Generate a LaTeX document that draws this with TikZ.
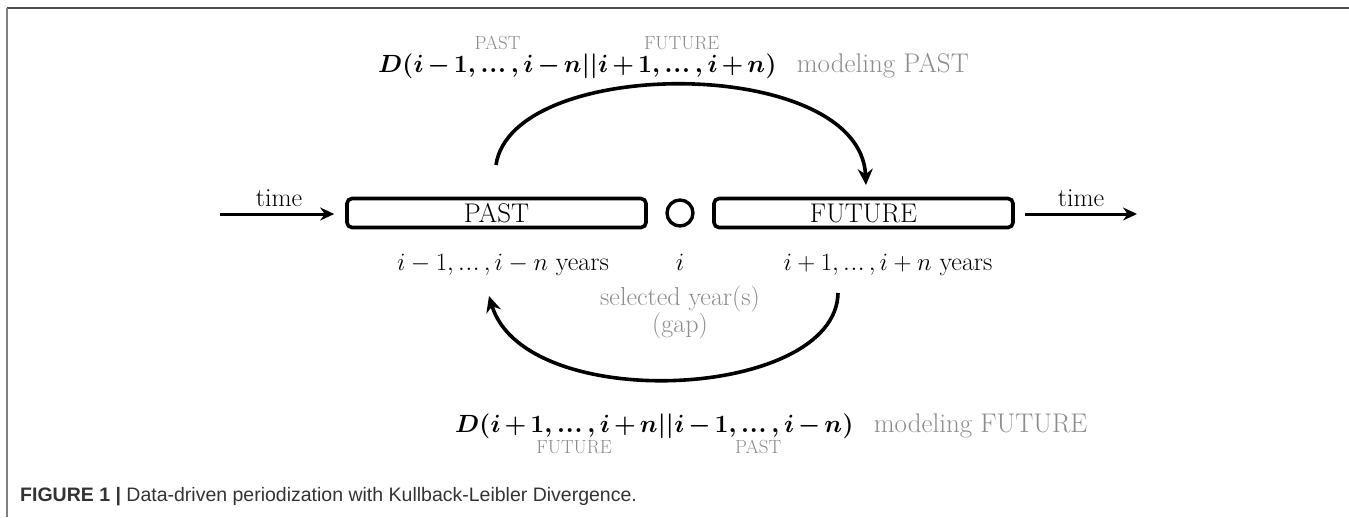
\documentclass[tikz,border=0pt]{standalone}
\usepackage{fontspec}
\usetikzlibrary{arrows.meta,positioning}
\newfontfamily\capfont{Liberation Sans}
\definecolor{lbl}{gray}{0.55}
\definecolor{capcol}{gray}{0.2}
\newcommand{\tdots}{\mathinner{\ldotp\mkern-2.5mu\ldotp\mkern-2.5mu\ldotp}}
\newcommand{\fmset}{\boldmath\medmuskip=2.5mu\relax}
\tikzset{
  boxnode/.style={draw, line width=3.6pt, rounded corners=5pt, minimum width=299pt, minimum height=29pt, inner sep=0pt, font=\fontsize{27}{30}\selectfont},
  txt/.style={inner sep=0pt, font=\fontsize{26}{30}\selectfont},
  graytxt/.style={inner sep=0pt, text=lbl, font=\fontsize{26}{27}\selectfont, align=center},
  fm/.style={inner sep=0pt, font=\fontsize{26.5}{32}\selectfont\fmset},
  smlbl/.style={inner sep=0pt, text=lbl, font=\fontsize{19}{20}\selectfont},
  modtxt/.style={inner sep=0pt, text=lbl, font=\fontsize{27}{30}\selectfont},
  tarrow/.style={line width=3pt, -{Stealth[length=14pt,width=13pt]}},
  carrow/.style={line width=3.6pt, -{Stealth[length=16pt,width=15pt]}}
}
\begin{document}
\begin{tikzpicture}[x=1pt,y=-1pt]
\useasboundingbox (0,0) rectangle (1349,517);
% frame
\draw[gray!60!black, line width=2pt] (7,8) -- (1349,8);
\draw[gray, line width=1.5pt] (7,8) -- (7,517);

% boxes
\node[boxnode] (past) at (496.5,213) {PAST};
\node[boxnode] (future) at (863.5,213) {FUTURE};
\node[draw, circle, line width=3.4pt, minimum size=26pt, inner sep=0pt] (gap) at (680,213) {};

% time arrows
\coordinate (tl) at (220,214);
\coordinate (tr) at (1137,214);
\draw[tarrow, shorten >=11pt] (tl) -- (tl -| past.west);
\draw[tarrow, shorten <=10pt] (tr -| future.east) -- (tr);
\node[txt, anchor=base] (time1) at (279,206) {time};
\node[txt, anchor=base] (time2) at (1081,206) {time};

% labels under boxes
\node[txt, anchor=base] (pl) at (503,270) {$i-1,\tdots,i-n$ years};
\node[txt, anchor=base] (il) at (680,270) {$i$};
\node[txt, anchor=base] (fl) at (888,270) {$i+1,\tdots,i+n$ years};
\node[graytxt] (sel) at (680,313) {selected year(s)\\(gap)};

% top formula
\node[fm, anchor=base west] (tD) at (378,72) {$D($};
\node[fm, anchor=base west] (tg1) at (tD.base east) {$i-1,\tdots,i-n$};
\node[fm, anchor=base west] (tbar) at (tg1.base east) {$||$};
\node[fm, anchor=base west] (tg2) at (tbar.base east) {$i+1,\tdots,i+n$};
\node[fm, anchor=base west] (tE) at (tg2.base east) {$)$};
\node[smlbl, above=5pt of tg1] (tpast) {PAST};
\node[smlbl, above=5pt of tg2] (tfut) {FUTURE};
\node[modtxt, anchor=base west] (tmod) at ([xshift=20pt]tE.base east) {modeling PAST};

% bottom formula
\node[fm, anchor=base west] (bD) at (455,432) {$D($};
\node[fm, anchor=base west] (bg1) at (bD.base east) {$i+1,\tdots,i+n$};
\node[fm, anchor=base west] (bbar) at (bg1.base east) {$||$};
\node[fm, anchor=base west] (bg2) at (bbar.base east) {$i-1,\tdots,i-n$};
\node[fm, anchor=base west] (bE) at (bg2.base east) {$)$};
\node[smlbl, below=3pt of bg1] (bfut) {FUTURE};
\node[smlbl, below=3pt of bg2] (bpast) {PAST};
\node[modtxt, anchor=base west] (bmod) at ([xshift=20pt]bE.base east) {modeling FUTURE};

% curved arrows
\coordinate (ta) at (496,165);
\coordinate (tb) at (866,185);
\draw[carrow] (ta) .. controls (512,55) and (860,55) .. (tb);
\coordinate (ba) at (838,293);
\coordinate (bb) at (489,296);
\draw[carrow] (ba) .. controls (836,400) and (525,415) .. (bb);

% caption
\node[inner sep=0pt, anchor=base west, text=capcol, font=\capfont\fontsize{19.5}{21}\selectfont] (cap) at (20,501)
  {\textbf{FIGURE 1 |} Data-driven periodization with Kullback-Leibler Divergence.};
\end{tikzpicture}
\end{document}
